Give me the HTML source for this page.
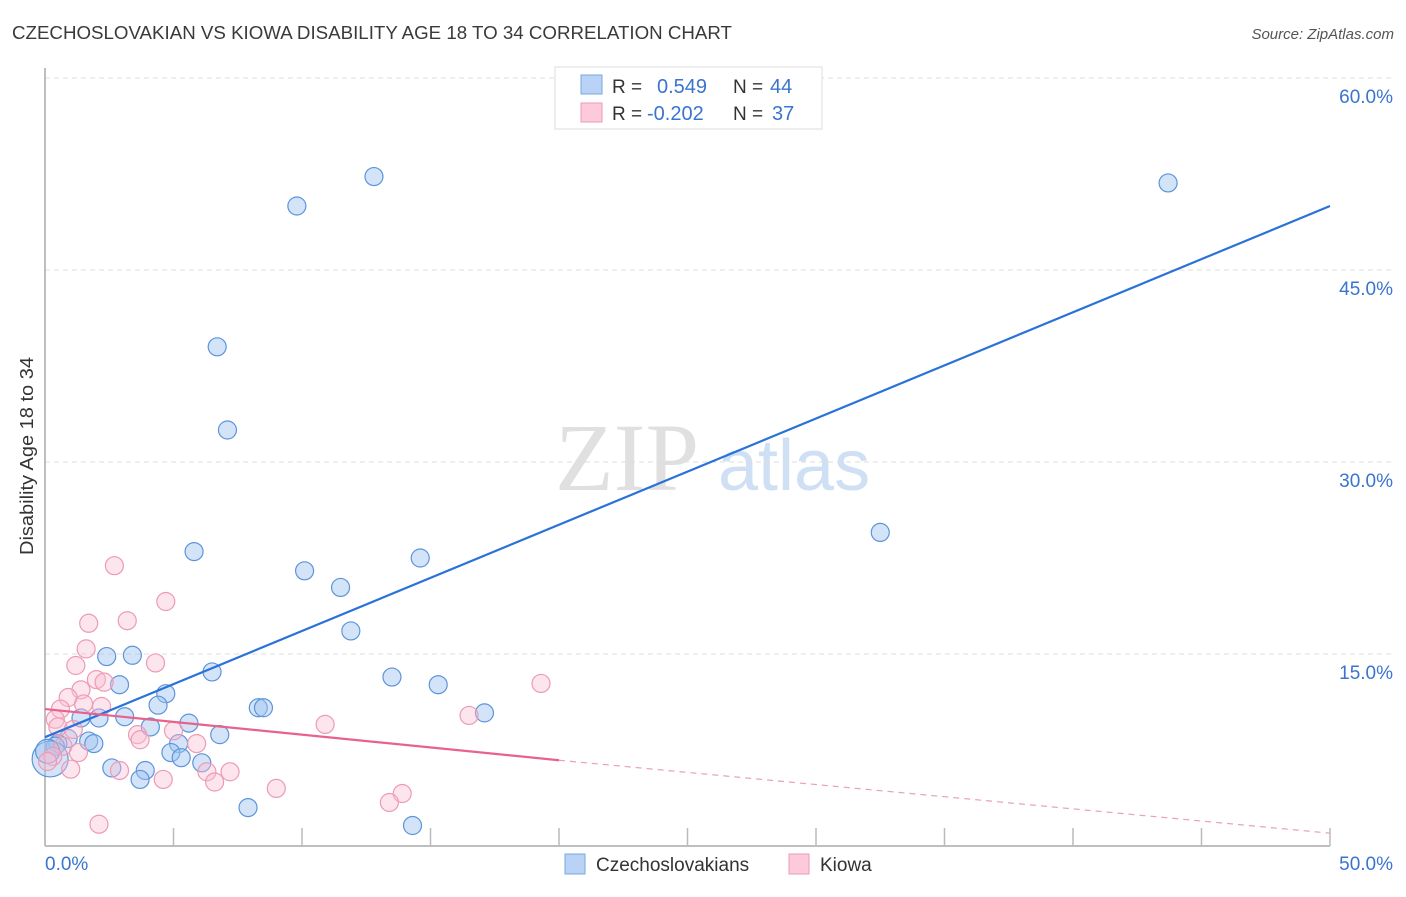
<!DOCTYPE html>
<html><head><meta charset="utf-8"><style>
body{margin:0;background:#fff;font-family:"Liberation Sans",sans-serif}
svg text{font-family:"Liberation Sans",sans-serif}
</style></head><body>
<svg id="chart" width="1406" height="892" xmlns="http://www.w3.org/2000/svg">
<text x="12" y="39" font-size="18" fill="#3a3a3a" textLength="720" lengthAdjust="spacingAndGlyphs">CZECHOSLOVAKIAN VS KIOWA DISABILITY AGE 18 TO 34 CORRELATION CHART</text>
<text x="1394" y="39" font-size="15" fill="#555" font-style="italic" text-anchor="end">Source: ZipAtlas.com</text>
<text transform="translate(33,456) rotate(-90)" font-size="18" fill="#333" text-anchor="middle" textLength="198" lengthAdjust="spacingAndGlyphs">Disability Age 18 to 34</text>
<g>
<text x="555" y="490" font-size="96" font-family="Liberation Serif" fill="#e0e0e0" style="font-family:'Liberation Serif',serif">ZIP</text>
<text x="718" y="490" font-size="72" fill="#cfe0f5">atlas</text>
</g>
<g id="grid"></g><g id="axes"></g><g id="marks"></g>
<g>
<rect x="555" y="67" width="267" height="62" fill="#fff" stroke="#ddd"/>
<rect x="581" y="75" width="21" height="19" fill="#b8d3f5" stroke="#7aa7e0"/>
<rect x="581" y="103" width="21" height="19" fill="#fccadb" stroke="#ee9ab5"/>
<text x="612" y="93" font-size="19" fill="#333">R =</text>
<text x="657" y="93" font-size="20" fill="#3a74cf">0.549</text>
<text x="733" y="93" font-size="19" fill="#333">N =</text>
<text x="770" y="93" font-size="20" fill="#3a74cf">44</text>
<text x="612" y="120" font-size="19" fill="#333">R =</text>
<text x="647" y="120" font-size="20" fill="#3a74cf">-0.202</text>
<text x="733" y="120" font-size="19" fill="#333">N =</text>
<text x="772" y="120" font-size="20" fill="#3a74cf">37</text>
</g>
<g>
<rect x="565" y="854" width="20" height="20" fill="#b8d3f5" stroke="#7aa7e0"/>
<text x="596" y="871" font-size="19" fill="#333">Czechoslovakians</text>
<rect x="789" y="854" width="20" height="20" fill="#fccadb" stroke="#ee9ab5"/>
<text x="820" y="871" font-size="19" fill="#333">Kiowa</text>
</g>
</svg>
<script>
const yTicks=[15,30,45,60];
const yTickLabels=["15.0%","30.0%","45.0%","60.0%"];
const xTicks=[0,5,10,15,20,25,30,35,40,45,50];
const blueX=[12.8,9.8,43.7,6.7,7.1,5.8,32.5,14.6,10.1,11.5,11.9,2.4,3.4,6.5,13.5,2.9,15.3,4.7,4.4,8.3,8.5,17.1,1.4,3.1,2.1,5.6,4.1,6.8,0.9,1.7,1.9,5.2,0.5,0.4,4.9,5.3,6.1,2.6,3.9,3.7,7.9,14.3,0.2,0.1];
const blueY=[52.3,50.0,51.8,39.0,32.5,23.0,24.5,22.5,21.5,20.2,16.8,14.8,14.9,13.6,13.2,12.6,12.6,11.9,11.0,10.8,10.8,10.4,10.0,10.1,10.0,9.6,9.3,8.7,8.4,8.2,8.0,8.0,8.0,7.8,7.3,6.9,6.5,6.1,5.9,5.2,3.0,1.6,6.8,7.4];
const pinkX=[2.7,4.7,3.2,1.7,1.6,4.3,1.2,1.4,2.0,2.3,0.9,2.2,1.5,0.6,0.4,0.5,1.1,19.3,16.5,10.9,5.0,3.6,3.7,5.9,0.7,1.3,0.3,0.1,1.0,2.9,6.3,7.2,4.6,6.6,9.0,13.9,13.4,2.1];
const pinkY=[21.9,19.1,17.6,17.4,15.4,14.3,14.1,12.2,13.0,12.8,11.6,10.9,11.1,10.7,9.9,9.3,9.1,12.7,10.2,9.5,9.0,8.7,8.3,8.0,7.8,7.3,7.0,6.6,6.0,5.9,5.8,5.8,5.2,5.0,4.5,4.1,3.4,1.7];
const blueLine=[0,8.5,50,50.0];
const pinkLine=[0,10.7,20,6.7,50,1.0];
const NS="http://www.w3.org/2000/svg";
const X=v=>45+v/50*1285, Y=v=>846-v/15*192;
function mk(t,a,p){const e=document.createElementNS(NS,t);for(const k in a)e.setAttribute(k,a[k]);p.appendChild(e);return e;}
const grid=document.getElementById('grid'),axes=document.getElementById('axes'),marks=document.getElementById('marks');
yTicks.forEach((v,i)=>{
 const l=mk('line',{x1:45,x2:1394,y1:Y(v),y2:Y(v),stroke:'#ddd','stroke-dasharray':'5,4'},grid);
 
 
 const t=mk('text',{x:1393,y:Y(v)+25,'font-size':19,fill:'#3a74cf','text-anchor':'end'},axes);
 t.textContent=yTickLabels[i];
 
 
});
const ya=mk('line',{x1:45,x2:45,y1:68,y2:846,stroke:'#aaa','stroke-width':1.5},axes);


const xa=mk('line',{x1:45,x2:1330,y1:846,y2:846,stroke:'#aaa','stroke-width':1.5},axes);


xTicks.forEach(v=>{const t=mk('line',{x1:X(v),x2:X(v),y1:828,y2:846,stroke:'#bbb','stroke-width':1.5},axes);
 
 });
const x0=mk('text',{x:45,y:870,'font-size':19,fill:'#3a74cf'},axes);x0.textContent='0.0%';


const x1=mk('text',{x:1393,y:870,'font-size':19,fill:'#3a74cf','text-anchor':'end'},axes);x1.textContent='50.0%';


blueX.forEach((v,i)=>{const c=mk('circle',{cx:X(v),cy:Y(blueY[i]),r:i>=42?(i==42?18:12):9,fill:'rgba(160,196,240,0.45)',stroke:'#5c94dc','stroke-width':1.2},marks);
 
 });
pinkX.forEach((v,i)=>{const c=mk('circle',{cx:X(v),cy:Y(pinkY[i]),r:9,fill:'rgba(250,190,210,0.4)',stroke:'#ee9ab5','stroke-width':1.2},marks);
 
 });
const bl=mk('line',{x1:X(blueLine[0]),y1:Y(blueLine[1]),x2:X(blueLine[2]),y2:Y(blueLine[3]),stroke:'#2a72d8','stroke-width':2.2},marks);


const pl=mk('line',{x1:X(pinkLine[0]),y1:Y(pinkLine[1]),x2:X(pinkLine[2]),y2:Y(pinkLine[3]),stroke:'#e8628e','stroke-width':2.2},marks);


const pd=mk('line',{x1:X(pinkLine[2]),y1:Y(pinkLine[3]),x2:X(pinkLine[4]),y2:Y(pinkLine[5]),stroke:'#e8a0b8','stroke-width':1.2,'stroke-dasharray':'6,5'},marks);


</script>
</body></html>
